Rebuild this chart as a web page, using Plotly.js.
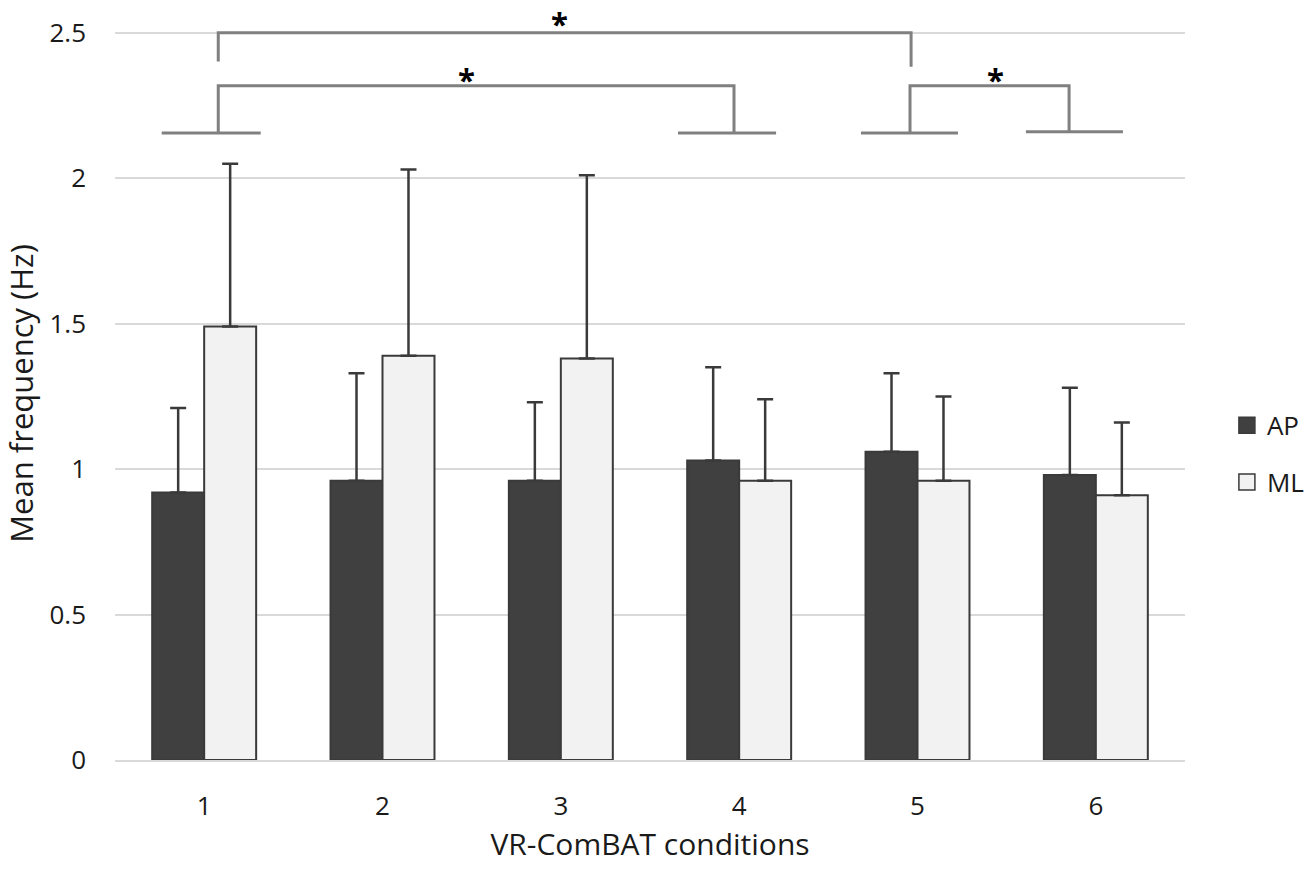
<!DOCTYPE html>
<html><head><meta charset="utf-8">
<script src="https://cdn.plot.ly/plotly-3.0.1.min.js"></script>
<style>html,body{margin:0;padding:0;background:#fff}#chart{width:1308px;height:871px}</style>
</head><body><div id="chart"></div>
<script>
// ---- data ----
const conditions = [1, 2, 3, 4, 5, 6];
const tickLabels = ['1', '2', '3', '4', '5', '6'];
const apMean = [0.92, 0.96, 0.96, 1.03, 1.06, 0.98];
const apSD   = [0.29, 0.37, 0.27, 0.32, 0.27, 0.30];
const mlMean = [1.49, 1.39, 1.38, 0.96, 0.96, 0.91];
const mlSD   = [0.56, 0.64, 0.63, 0.28, 0.29, 0.25];
const seriesNames = ['AP', 'ML'];
const comparisons = [[1, 5], [1, 4], [5, 6]];
const sigLabels = ['*', '*', '*'];

// ---- styling ----
const FONT = 'Open Sans, Noto Sans, sans-serif';
const DARK = '#404040', LIGHT = '#f2f2f2', EDGE = '#3a3a3a', BRK = '#808080';
const Y_MAX = 2.52;

function barTrace(name, mean, sd, fill) {
  return {
    type: 'bar', name: name, x: conditions, y: mean, showlegend: false,
    marker: {color: fill, line: {color: EDGE, width: 2}},
    error_y: {type: 'data', symmetric: false, array: sd, arrayminus: sd.map(() => 0),
              color: EDGE, thickness: 2.5, width: 8}
  };
}
function legendTrace(name, fill, grp) {
  return {
    type: 'scatter', mode: 'markers', name: name, x: [null], y: [null],
    legendgroup: grp, hoverinfo: 'skip',
    marker: {symbol: 'square', size: 16, color: fill, line: {color: EDGE, width: 1.5}}
  };
}

// bracket geometry for the significance markers (annotation layout, in axis units)
const brk = [
  {l: 1.079, r: 4.964, y: 2.5,   dl: 2.401, dr: 2.383, feet: false, sx: 2.995, sy: 2.555},
  {l: 1.079, r: 3.971, y: 2.318, dl: 2.156, dr: 2.156, feet: true,  sx: 2.472, sy: 2.362,
   fl: [0.762, 1.317], fr: [3.657, 4.207]},
  {l: 4.958, r: 5.850, y: 2.318, dl: 2.156, dr: 2.160, feet: true,  sx: 5.435, sy: 2.362,
   fl: [4.683, 5.227], fr: [5.608, 6.152]}
];
const shapes = [], annotations = [];
brk.forEach((b, i) => {
  shapes.push({type: 'path', xref: 'x', yref: 'y', layer: 'above',
    path: `M${b.l},${b.dl} L${b.l},${b.y} L${b.r},${b.y} L${b.r},${b.dr}`,
    line: {color: BRK, width: 3}});
  if (b.feet) {
    shapes.push({type: 'line', xref: 'x', yref: 'y', x0: b.fl[0], x1: b.fl[1], y0: b.dl, y1: b.dl,
      line: {color: BRK, width: 3}});
    shapes.push({type: 'line', xref: 'x', yref: 'y', x0: b.fr[0], x1: b.fr[1], y0: b.dr, y1: b.dr,
      line: {color: BRK, width: 3}});
  }
  annotations.push({x: b.sx, y: b.sy / Y_MAX, xref: 'x', yref: 'paper', text: sigLabels[i],
    showarrow: false, yanchor: 'middle', yshift: -6,
    font: {family: FONT, size: 31, color: '#000', weight: 'bold'}});
});

const data = [
  barTrace(seriesNames[0], apMean, apSD, DARK),
  barTrace(seriesNames[1], mlMean, mlSD, LIGHT),
  legendTrace(seriesNames[0], DARK, 'a'),
  legendTrace(seriesNames[1], LIGHT, 'b')
];

const layout = {
  width: 1308, height: 871,
  margin: {l: 115, r: 123, t: 27, b: 111},
  paper_bgcolor: '#fff', plot_bgcolor: '#fff',
  font: {family: FONT, color: '#1a1a1a', size: 26},
  barmode: 'group', bargap: 0.417, bargroupgap: 0,
  xaxis: {
    type: 'linear', range: [0.5, 6.5], tickvals: conditions, ticktext: tickLabels,
    showgrid: false, zeroline: false, showline: true, linecolor: '#d9d9d9', linewidth: 2,
    ticks: '', ticklabelstandoff: 22, tickfont: {size: 26},
    title: {text: 'VR-ComBAT conditions', font: {size: 30}, standoff: 12}
  },
  yaxis: {
    range: [0, Y_MAX], tickvals: [0, 0.5, 1, 1.5, 2, 2.5], ticktext: ['0', '0.5', '1', '1.5', '2', '2.5'],
    showgrid: true, gridcolor: '#d9d9d9', gridwidth: 2, zeroline: false, showline: false,
    ticks: '', ticklabelstandoff: 28, tickfont: {size: 26},
    title: {text: 'Mean frequency (Hz)', font: {size: 31}, standoff: 6}
  },
  showlegend: true,
  legend: {xref: 'container', yref: 'container', x: 0.938, xanchor: 'left', y: 0.479, yanchor: 'middle',
           traceorder: 'grouped', tracegroupgap: 20, font: {size: 26}, bgcolor: 'rgba(0,0,0,0)'},
  shapes: shapes, annotations: annotations
};

Plotly.newPlot('chart', data, layout, {displayModeBar: false, staticPlot: true});
</script>
</body></html>
